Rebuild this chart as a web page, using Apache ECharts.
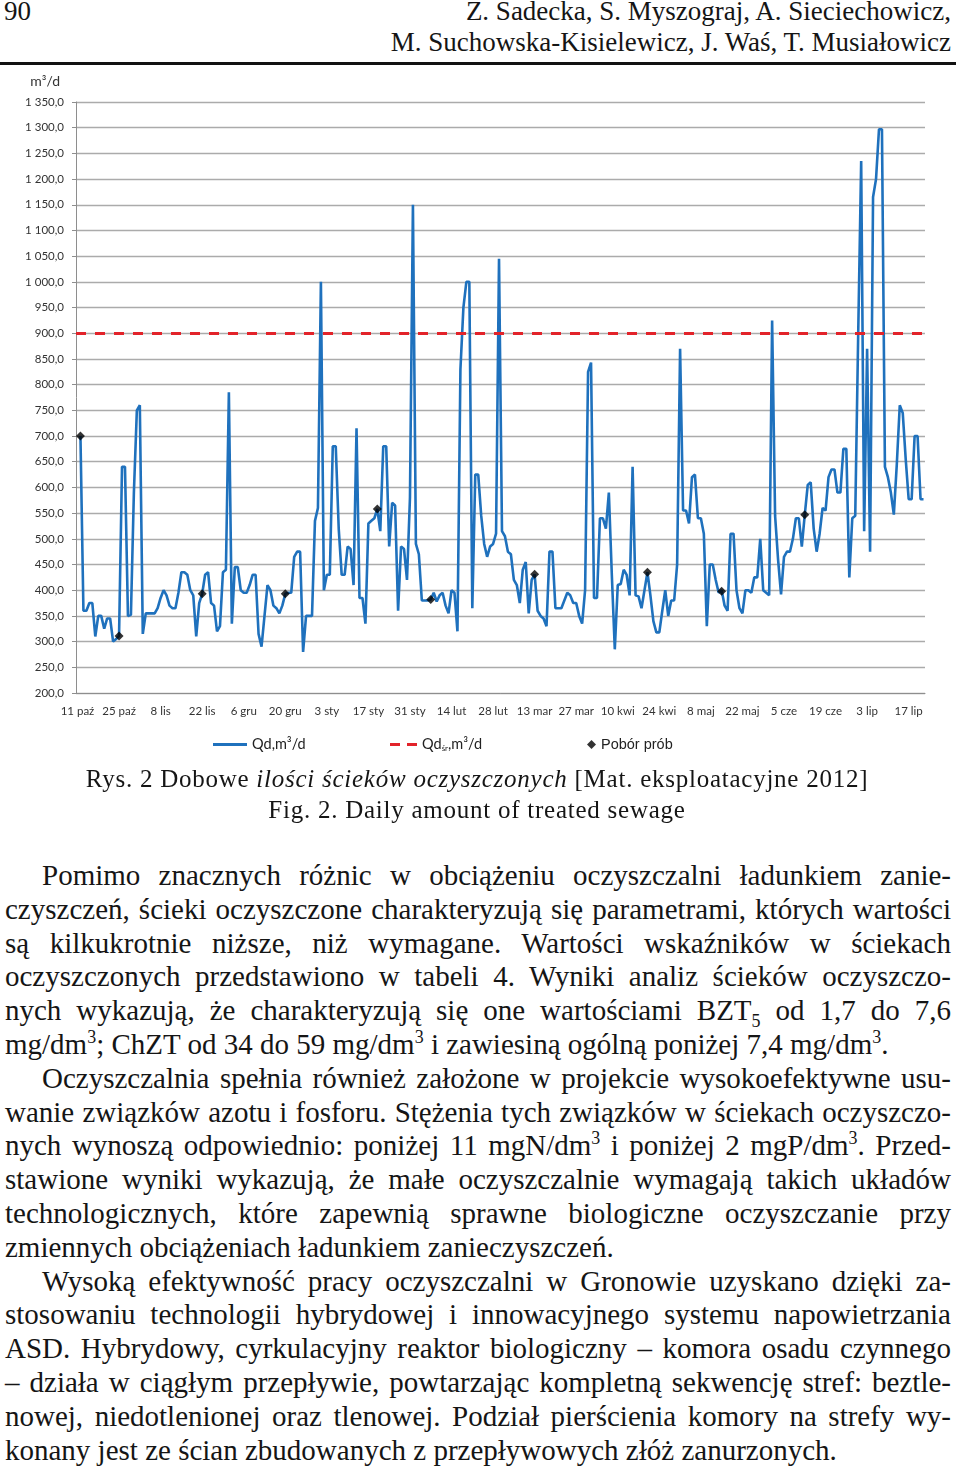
<!DOCTYPE html>
<html><head><meta charset="utf-8">
<script src="https://cdn.jsdelivr.net/npm/echarts@6/dist/echarts.min.js"></script>
<style>
html,body{margin:0;padding:0;background:#fff;}
body{width:960px;height:1472px;position:relative;overflow:hidden;font-family:"Liberation Serif","Times New Roman",serif;color:#151515;}
#hdrNum{position:absolute;left:4px;top:-4px;font-size:27px;line-height:31px;}
#hdrAuth{position:absolute;right:9px;top:-4px;font-size:27px;line-height:31px;text-align:right;}
#rule{position:absolute;left:0;top:62px;width:956px;height:3px;background:#111;}
#chart{position:absolute;left:0;top:66px;width:960px;height:700px;}
#cap{position:absolute;left:0;top:763px;width:954px;text-align:center;font-size:25px;line-height:31px;letter-spacing:0.75px;}
#cap div{white-space:nowrap;}
#body{position:absolute;left:5px;top:859px;width:946px;font-size:29px;line-height:33.8px;}
#body .l{white-space:nowrap;display:block;}
#body .i{padding-left:37px;}
sup,sub{font-size:62%;line-height:0;}
</style></head>
<body>
<div id="hdrNum">90</div>
<div id="hdrAuth">Z. Sadecka, S. Myszograj, A. Sieciechowicz,<br>M. Suchowska-Kisielewicz, J. Waś, T. Musiałowicz</div>
<div id="rule"></div>
<div id="chart"></div>
<div id="cap">
<div id="cap1">Rys. 2 Dobowe <i>ilości ścieków oczyszczonych</i> [Mat. eksploatacyjne 2012]</div>
<div id="cap2">Fig. 2. Daily amount of treated sewage</div>
</div>
<div id="body">
<div class="l j i">Pomimo znacznych różnic w obciążeniu oczyszczalni ładunkiem zanie-</div>
<div class="l j">czyszczeń, ścieki oczyszczone charakteryzują się parametrami, których wartości</div>
<div class="l j">są kilkukrotnie niższe, niż wymagane. Wartości wskaźników w ściekach</div>
<div class="l j">oczyszczonych przedstawiono w tabeli 4. Wyniki analiz ścieków oczyszczo-</div>
<div class="l j">nych wykazują, że charakteryzują się one wartościami BZT<sub>5</sub> od 1,7 do 7,6</div>
<div class="l">mg/dm<sup>3</sup>; ChZT od 34 do 59 mg/dm<sup>3</sup> i zawiesiną ogólną poniżej 7,4 mg/dm<sup>3</sup>.</div>
<div class="l j i">Oczyszczalnia spełnia również założone w projekcie wysokoefektywne usu-</div>
<div class="l j">wanie związków azotu i fosforu. Stężenia tych związków w ściekach oczyszczo-</div>
<div class="l j">nych wynoszą odpowiednio: poniżej 11 mgN/dm<sup>3</sup> i poniżej 2 mgP/dm<sup>3</sup>. Przed-</div>
<div class="l j">stawione wyniki wykazują, że małe oczyszczalnie wymagają takich układów</div>
<div class="l j">technologicznych, które zapewnią sprawne biologiczne oczyszczanie przy</div>
<div class="l">zmiennych obciążeniach ładunkiem zanieczyszczeń.</div>
<div class="l j i">Wysoką efektywność pracy oczyszczalni w Gronowie uzyskano dzięki za-</div>
<div class="l j">stosowaniu technologii hybrydowej i innowacyjnego systemu napowietrzania</div>
<div class="l j">ASD. Hybrydowy, cyrkulacyjny reaktor biologiczny – komora osadu czynnego</div>
<div class="l j">– działa w ciągłym przepływie, powtarzając kompletną sekwencję stref: beztle-</div>
<div class="l j">nowej, niedotlenionej oraz tlenowej. Podział pierścienia komory na strefy wy-</div>
<div class="l">konany jest ze ścian zbudowanych z przepływowych złóż zanurzonych.</div>
</div>
<script>
// ---- data ----
const tickLabels = ['11 paź','25 paź','8 lis','22 lis','6 gru','20 gru','3 sty','17 sty','31 sty','14 lut','28 lut','13 mar','27 mar','10 kwi','24 kwi','8 maj','22 maj','5 cze','19 cze','3 lip','17 lip'];
const dayCount = 286; // 11.10.2011 - 22.07.2012, one category per day
const days = Array.from({length: dayCount}, (_, i) => i);
const qd = [
 null,700,360,360,375,375,310,350,350,325,345,345,300,305,
 311,640,640,350,352,590,750,760,315,355,355,355,355,365,
 385,400,390,370,365,365,395,435,435,430,400,390,310,375,
 393,430,435,375,370,320,330,435,440,785,335,445,445,400,
 395,395,410,430,430,315,290,350,410,400,370,365,355,370,
 393,395,395,465,475,475,280,350,350,350,535,560,1000,400,
 430,430,680,680,520,430,430,485,480,410,715,385,385,335,
 530,535,540,558,515,680,680,485,570,565,360,485,480,420,
 580,1150,490,470,380,380,380,382,395,378,390,395,370,355,
 400,395,320,830,950,1000,1000,365,625,625,545,490,465,485,
 490,510,1045,515,505,475,470,420,410,375,440,455,355,420,
 431,360,350,345,330,475,475,365,365,365,380,395,390,375,
 375,350,335,400,825,843,385,385,540,540,520,590,430,285,
 410,412,440,430,390,640,390,388,365,400,435,390,340,318,
 318,360,400,350,380,380,450,870,555,555,530,620,625,540,
 540,510,330,450,450,420,395,400,370,360,510,510,400,365,
 355,400,400,395,425,425,500,400,395,390,925,545,460,392,
 465,475,475,500,540,540,485,547,605,610,520,475,510,560,
 555,620,635,635,590,590,675,675,425,540,545,900,1235,515,
 870,475,1165,1200,1297,1297,640,620,590,547,645,760,745,655,
 577,577,700,700,577,577
];
const qdAvg = 900;
const sampleDays = [1,14,42,70,101,119,154,192,217,245];
const sampleValues = [700,311,393,393,558,382,431,435,398,547];

// ---- text justification ----
document.querySelectorAll('#body .j').forEach(el => {
  el.style.display = 'inline-block';
  const w = el.getBoundingClientRect().width;
  const n = (el.textContent.match(/ /g) || []).length;
  el.style.display = 'block';
  if (n) el.style.wordSpacing = ((946 - w) / n) + 'px';
});

// ---- chart ----
const fmtY = v => { const s = v.toFixed(1).replace('.', ','); return v >= 1000 ? s.slice(0,1) + ' ' + s.slice(1) : s; };
const axisGray = '#8e8e8e';
const blue = '#1f71bd', red = '#e2232a';
const chart = echarts.init(document.getElementById('chart'), null, {renderer: 'canvas'});
chart.setOption({
  animation: false,
  textStyle: {fontFamily: 'Lato'},
  grid: {left: 76, right: 35, top: 36, bottom: 73},
  legend: [
    {data: [{name: 'Qd,m³/d', icon: 'rect'}], left: 208, top: 666, itemWidth: 34, itemHeight: 3, itemGap: 5,
     textStyle: {fontSize: 14.5, color: '#222'}},
    {data: [{name: 'Qdśr', icon: 'path://M0,0H10V3H0Z M17,0H27V3H17Z'}], left: 385, top: 666, itemWidth: 27, itemHeight: 3,
     formatter: () => '{a|Qd}{s|śr}{a|,m³/d}',
     textStyle: {color: '#222', rich: {a: {fontSize: 14.5, color: '#222'}, s: {fontSize: 8, color: '#222', verticalAlign: 'bottom', padding: [6, 0, 0, 0]}}}},
    {data: [{name: 'Pobór prób', icon: 'diamond'}], left: 582, top: 666, itemWidth: 9, itemHeight: 9,
     textStyle: {fontSize: 14.5, color: '#222', fontFamily: 'Liberation Sans'}}
  ],
  xAxis: {
    type: 'category', data: days, boundaryGap: true,
    axisLine: {lineStyle: {color: axisGray, width: 1}},
    axisTick: {interval: 13, length: 4, lineStyle: {color: axisGray}},
    axisLabel: {interval: 13, margin: 12, fontSize: 11.5, color: '#333',
      formatter: (v, i) => tickLabels[Math.round(i / 14)] || ''},
    splitLine: {show: false}
  },
  yAxis: {
    type: 'value', min: 200, max: 1350, interval: 50,
    name: 'm³/d', nameLocation: 'end', nameGap: 14,
    nameTextStyle: {fontSize: 14, color: '#333', align: 'right', padding: [0, 16, 0, 0]},
    axisLine: {show: true, lineStyle: {color: axisGray, width: 1}},
    axisTick: {show: true, length: 4, lineStyle: {color: axisGray}},
    axisLabel: {margin: 12, fontSize: 11.5, color: '#333', formatter: fmtY},
    splitLine: {lineStyle: {color: '#ababab', width: 1.3}}
  },
  series: [
    {name: 'Qd,m³/d', type: 'line', data: qd, symbol: 'none', z: 3,
     lineStyle: {color: blue, width: 2.6}, itemStyle: {color: blue}},
    {name: 'Qdśr', type: 'line', data: [], symbol: 'none', z: 2,
     lineStyle: {color: red, width: 3, type: [10, 8]}, itemStyle: {color: red},
     markLine: {silent: true, symbol: 'none', label: {show: false},
       lineStyle: {color: red, width: 3, type: [10, 9]}, data: [{yAxis: qdAvg}]}},
    {name: 'Pobór prób', type: 'scatter', symbol: 'diamond', symbolSize: 9, z: 4,
     itemStyle: {color: '#000'},
     data: sampleDays.map((d, i) => [d, sampleValues[i]])}
  ]
});
</script>
</body></html>
